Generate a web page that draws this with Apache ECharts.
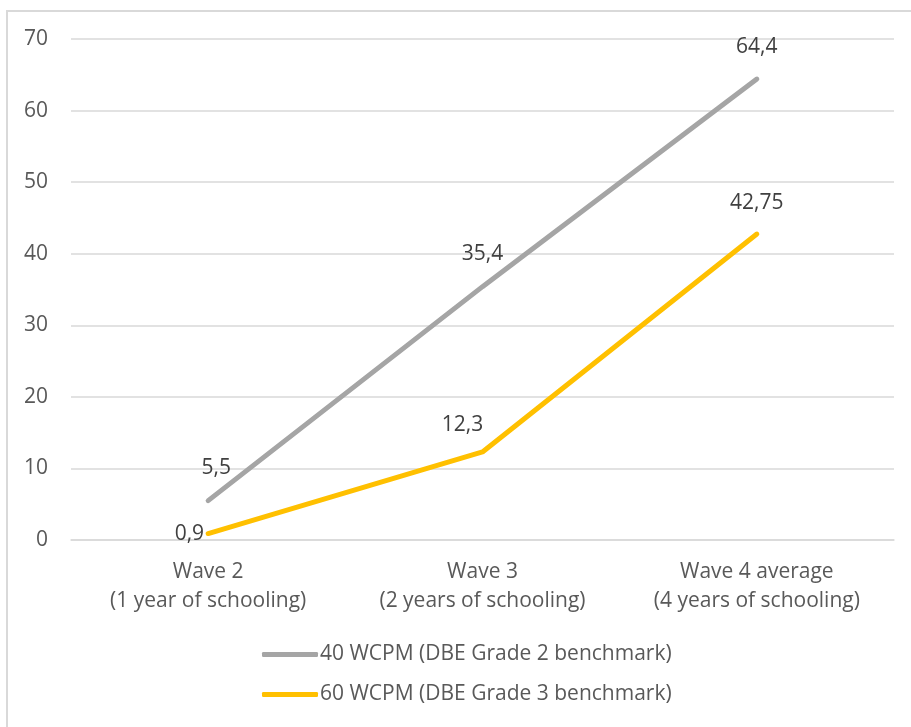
<!DOCTYPE html>
<html>
<head>
<meta charset="utf-8">
<script src="https://cdn.jsdelivr.net/npm/echarts@6/dist/echarts.min.js"></script>
<style>
  html, body { margin: 0; padding: 0; background: #fff; }
  #chart { width: 911px; height: 727px; }
</style>
</head>
<body>
<div id="chart"></div>
<script>
// Reading progress by wave against the DBE benchmarks
const categories = ['Wave 2\n(1 year of schooling)', 'Wave 3\n(2 years of schooling)', 'Wave 4 average\n(4 years of schooling)'];
const grade2Values = [5.5, 35.4, 64.4];
const grade3Values = [0.9, 12.3, 42.75];
const seriesNames = ['40 WCPM (DBE Grade 2 benchmark)', '60 WCPM (DBE Grade 3 benchmark)'];

const textColor = '#595959';
const labelColor = '#404040';
const fontFamily = 'Open Sans, Liberation Sans, sans-serif';
const fontSize = 21;
const fmt = v => String(v).replace('.', ',');

const chart = echarts.init(document.getElementById('chart'), null, { renderer: 'canvas' });
chart.setOption({
  animation: false,
  backgroundColor: '#fff',
  textStyle: { fontFamily: fontFamily, color: textColor },
  graphic: [{
    type: 'rect',
    shape: { x: 7, y: 11, width: 1000, height: 1000 },
    style: { fill: 'none', stroke: '#d9d9d9', lineWidth: 2 },
    silent: true
  }],
  grid: { left: 71, right: 17, top: 39, bottom: 187, containLabel: false },
  xAxis: {
    type: 'category',
    data: categories,
    boundaryGap: true,
    axisLine: { lineStyle: { color: '#d9d9d9', width: 1.5 } },
    axisTick: { show: false },
    axisLabel: { color: textColor, fontSize: fontSize, fontFamily: fontFamily, lineHeight: 29, margin: 18, interval: 0 }
  },
  yAxis: {
    type: 'value',
    min: 0, max: 70, interval: 10,
    axisLine: { show: false },
    axisTick: { show: false },
    splitLine: { lineStyle: { color: '#d9d9d9', width: 1.5 } },
    axisLabel: { color: textColor, fontSize: fontSize, fontFamily: fontFamily, margin: 23 }
  },
  legend: {
    orient: 'vertical',
    left: 257,
    top: 639,
    itemGap: 19,
    itemWidth: 56,
    itemHeight: 5,
    icon: 'roundRect',
    textStyle: { color: textColor, fontSize: fontSize, fontFamily: fontFamily, padding: [0, 0, 0, -3] },
    data: seriesNames
  },
  series: [
    {
      name: seriesNames[0],
      type: 'line',
      data: [
        { value: grade2Values[0], label: { offset: [8, 0] } },
        grade2Values[1],
        grade2Values[2]
      ],
      symbol: 'circle',
      symbolSize: 0.1,
      showSymbol: true,
      lineStyle: { color: '#a5a5a5', width: 5, cap: 'round' },
      itemStyle: { color: '#a5a5a5' },
      label: {
        show: true, position: 'top', distance: 22,
        color: labelColor, fontSize: fontSize, fontFamily: fontFamily,
        formatter: p => fmt(p.value)
      }
    },
    {
      name: seriesNames[1],
      type: 'line',
      data: [
        { value: grade3Values[0], label: { position: 'left', distance: 4 } },
        { value: grade3Values[1], label: { position: 'top', distance: 16, offset: [-20, 0] } },
        { value: grade3Values[2], label: { position: 'top', distance: 20 } }
      ],
      symbol: 'circle',
      symbolSize: 0.1,
      showSymbol: true,
      lineStyle: { color: '#ffc000', width: 5, cap: 'round' },
      itemStyle: { color: '#ffc000' },
      label: {
        show: true, color: labelColor, fontSize: fontSize, fontFamily: fontFamily,
        formatter: p => fmt(p.value)
      }
    }
  ]
});
</script>
</body>
</html>
